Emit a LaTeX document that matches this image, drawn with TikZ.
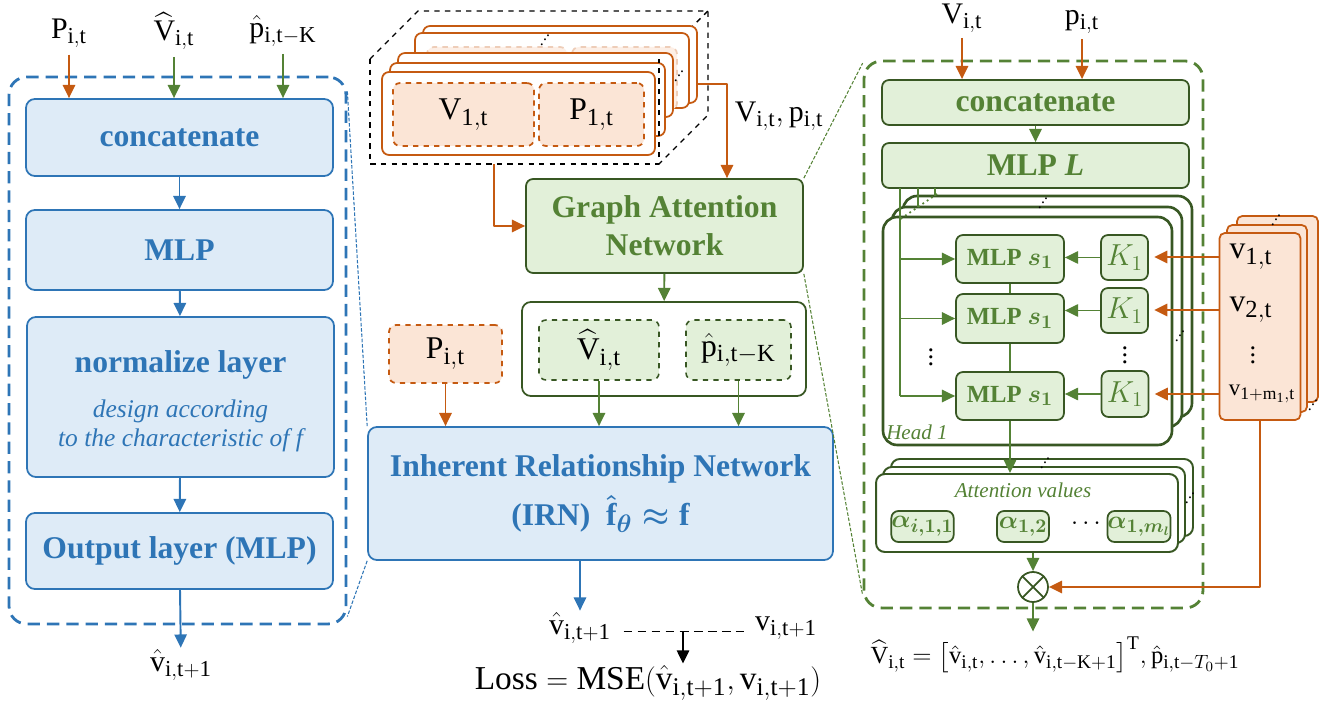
\documentclass[tikz,border=0pt]{standalone}
\usepackage{amsmath}
\usepackage{bm}
\usepackage{fontspec}
\setmainfont{Liberation Serif}
\usepackage{xcolor}
\usepackage{tikz}
\usetikzlibrary{calc, arrows.meta, positioning}

\DeclareMathSizes{13}{13}{10}{8}
\DeclareMathSizes{14}{14}{11}{8}
\DeclareMathSizes{17}{17}{13}{10}
\DeclareMathSizes{18}{18}{14}{10}
\DeclareMathSizes{19}{19}{14.5}{11}

\definecolor{bline}{RGB}{46,117,182}
\definecolor{bfill}{RGB}{222,235,247}
\definecolor{gline}{RGB}{84,130,53}
\definecolor{gdark}{RGB}{56,87,35}
\definecolor{gfill}{RGB}{226,240,217}
\definecolor{oline}{RGB}{197,90,17}
\definecolor{ofill}{RGB}{251,229,214}

\newcommand{\updots}{\raisebox{0pt}{.}\kern-0.5pt\raisebox{2.5pt}{.}\kern-0.5pt\raisebox{5pt}{.}}

\begin{document}
\begin{tikzpicture}[x=0.02cm, y=-0.02cm, >={Triangle[length=7.5pt, width=7pt]}, line join=round]
	\tikzstyle{bbox} = [draw=bline, fill=bfill, line width=1pt, rounded corners=5pt, text=bline, font=\fontsize{18}{21}\selectfont\bfseries, inner sep=0pt]
	\tikzstyle{gbox} = [draw=gdark, fill=gfill, line width=1pt, rounded corners=4pt, text=gline, font=\fontsize{18}{21.5}\selectfont\bfseries, inner sep=0pt, align=center]
	\tikzstyle{sbox} = [gbox, font=\fontsize{14}{16}\selectfont\bfseries]
	\tikzstyle{gdash} = [draw=gdark, fill=gfill, line width=0.9pt, dashed, rounded corners=4pt, inner sep=0pt]
	\tikzstyle{odash} = [draw=oline, fill=ofill, line width=1pt, dashed, rounded corners=4pt, inner sep=0pt]
	\tikzstyle{lbl} = [font=\fontsize{17}{20}\selectfont, inner sep=1pt]
	\tikzstyle{big} = [font=\fontsize{18}{21}\selectfont, inner sep=1pt]
	\tikzstyle{panel} = [line width=1.6pt, dash pattern=on 7pt off 4pt, rounded corners=10pt, inner sep=0pt]
	\tikzstyle{card} = [draw=oline, fill=white, line width=1pt, rounded corners=4pt]
	\tikzstyle{vcardst} = [draw=oline, fill=ofill, line width=1pt, rounded corners=3pt]
	\tikzstyle{hd} = [draw=gdark, fill=white, line width=1.5pt, rounded corners=8pt, inner sep=0pt]
	\tikzstyle{av} = [draw=gdark, fill=white, line width=1.1pt, rounded corners=5pt, inner sep=0pt]
	\tikzstyle{dots} = [font=\small, inner sep=0pt]
	\tikzstyle{link} = [line width=0.6pt, dash pattern=on 2pt off 1pt]

	\useasboundingbox (0, 0) rectangle (1335, 705);

	% left panel
	\node[panel, draw=bline, minimum width=6.74cm, minimum height=10.94cm] at (177.5, 350.5) (lpanel) {};
	\node[bbox, minimum width=6.14cm, minimum height=1.54cm] at (179.5, 137.5) (lcat) {concatenate};
	\node[bbox, minimum width=6.14cm, minimum height=1.6cm] at (179.5, 250) (lmlp) {MLP};
	\node[bbox, minimum width=6.14cm, minimum height=3.2cm] at (180.5, 397) (lnorm) {};
	\node[text=bline, font=\fontsize{18}{21}\selectfont\bfseries] at (180.5, 365) (lnormt) {normalize layer};
	\node[text=bline, font=\fontsize{14.5}{16.5}\selectfont\itshape, align=center] at (180.5, 426) (lnormd) {design according\\to the characteristic of f};
	\node[bbox, minimum width=6.14cm, minimum height=1.52cm] at (179.5, 551) (lout) {Output layer (MLP)};

	\node[lbl] at (69, 33) (lin1) {$\mathrm{P}_{\mathrm{i,t}}$};
	\node[lbl] at (174, 31) (lin2) {$\widehat{\mathrm{V}}_{\mathrm{i,t}}$};
	\node[lbl] at (283, 31) (lin3) {$\hat{\mathrm{p}}_{\mathrm{i,t-K}}$};
	\node[lbl] at (181, 665) (lres) {$\hat{\mathrm{v}}_{\mathrm{i,t+1}}$};

	\draw[->, oline, line width=1.1pt] ([yshift=-3pt]lin1.south) -- (lin1 |- lcat.north);
	\draw[->, gline, line width=1.1pt] ([yshift=-3pt]lin2.south) -- (lin2 |- lcat.north);
	\draw[->, gline, line width=1.1pt] ([yshift=-3pt]lin3.south) -- (lin3 |- lcat.north);
	\draw[->, bline, line width=1.1pt] (lcat) -- (lmlp);
	\draw[->, bline, line width=1.1pt] (lmlp) -- (lnorm);
	\draw[->, bline, line width=1.1pt] (lnorm) -- (lout);
	\draw[->, bline, line width=1.1pt] (lout) -- (lres);

	% stacked graph of nodes
	\draw[dashed, line width=0.8pt] (370, 59) -- (418, 11) -- (708, 11) -- (708, 115) -- (659, 164);
	\draw[dashed, line width=0.8pt] (659, 59) -- (708, 11);
	\draw[card] (423, 26) rectangle (697, 103);
	\draw[card] (415, 33) rectangle (689, 108);
	\draw[draw=oline!30, fill=ofill!60, dashed, line width=1pt, rounded corners=4pt] (427, 47) rectangle (567, 110);
	\draw[draw=oline!30, fill=ofill!60, dashed, line width=1pt, rounded corners=4pt] (572, 47) rectangle (677, 110);
	\draw[card] (398, 53) rectangle (673, 117);
	\draw[card] (390, 63) rectangle (665, 136);
	\node[card, minimum width=5.46cm, minimum height=1.66cm, inner sep=0pt] at (518.5, 113.5) (card1) {};
	\node[odash, minimum width=2.82cm, minimum height=1.26cm, big] at (463.5, 114.5) (vbox) {$\mathrm{V}_{\mathrm{1,t}}$};
	\node[odash, minimum width=2.1cm, minimum height=1.26cm, big] at (591.5, 114.5) (pbox) {$\mathrm{P}_{\mathrm{1,t}}$};
	\draw[dashed, line width=0.8pt] (370, 59) -- (370, 164) -- (659, 164) -- (659, 59);
	\node[dots] at (545, 40) (cdots1) {\updots};
	\node[dots] at (679, 76) (cdots2) {\updots};
	\coordinate (cubebot) at (494, 164);
	\coordinate (cardout) at (697, 84);

	% graph attention network
	\node[gbox, minimum width=5.54cm, minimum height=1.88cm] at (664.5, 226) (gat) {Graph Attention\\Network};
	\node[lbl] at (779, 116) (vp) {$\mathrm{V}_{\mathrm{i,t}},\mathrm{p}_{\mathrm{i,t}}$};
	\draw[->, oline, line width=1.1pt] (cubebot) |- (gat.west);
	\draw[->, oline, line width=1.1pt] (cardout) -| ([xshift=1.25cm]gat.north);

	\node[draw=gdark, line width=1pt, rounded corners=5pt, minimum width=5.68cm, minimum height=1.88cm] at (664, 349) (gout) {};
	\node[gdash, minimum width=2.4cm, minimum height=1.2cm, big] at (599, 350) (vhat) {$\widehat{\mathrm{V}}_{\mathrm{i,t}}$};
	\node[gdash, minimum width=2.1cm, minimum height=1.2cm, big] at (738.5, 350) (phat) {$\hat{\mathrm{p}}_{\mathrm{i,t-K}}$};
	\node[odash, minimum width=2.26cm, minimum height=1.16cm, big] at (445.5, 354) (pit) {$\mathrm{P}_{\mathrm{i,t}}$};

	\node[bbox, minimum width=9.3cm, minimum height=2.66cm, align=center, font=\fontsize{18}{28}\selectfont\bfseries\boldmath] at (600.5, 493.5) (irn) {Inherent Relationship Network\\(IRN)\ \ $\hat{\textbf{f}}_{\bm{\theta}}\approx\textbf{f}$};

	\draw[->, gline, line width=1.1pt] (gat) -- (gout);
	\draw[->, oline, line width=1.1pt] (pit) -- (pit |- irn.north);
	\draw[->, gline, line width=1.1pt] (vhat) -- (vhat |- irn.north);
	\draw[->, gline, line width=1.1pt] (phat) -- (phat |- irn.north);

	\node[lbl] at (580, 628) (vres) {$\hat{\mathrm{v}}_{\mathrm{i,t+1}}$};
	\node[lbl] at (786, 628) (vtrue) {$\mathrm{v}_{\mathrm{i,t+1}}$};
	\node[font=\fontsize{19}{22}\selectfont, inner sep=1pt] at (648, 683) (loss) {$\mathrm{Loss}=\mathrm{MSE}(\hat{\mathrm{v}}_{\mathrm{i,t+1}},\mathrm{v}_{\mathrm{i,t+1}})$};
	\draw[->, bline, line width=1.1pt] (vres.north |- irn.south) -- (vres.north);
	\draw[dashed, line width=0.9pt, dash pattern=on 5pt off 3pt, shorten <=6pt, shorten >=5pt] ([yshift=-2pt]vres.east) -- ([yshift=-2pt]vtrue.west);
	\coordinate (lossin) at ($(vres.east)!0.5!(vtrue.west)$);
	\draw[->, line width=1.1pt] ([yshift=-2pt]lossin) -- (lossin |- loss.north);

	% right panel: inside the graph attention network
	\node[panel, draw=gline, minimum width=6.78cm, minimum height=10.94cm] at (1033.5, 334.5) (rpanel) {};
	\node[lbl] at (962, 18) (rin1) {$\mathrm{V}_{\mathrm{i,t}}$};
	\node[lbl] at (1082, 22) (rin2) {$\mathrm{p}_{\mathrm{i,t}}$};
	\node[gbox, minimum width=6.14cm, minimum height=0.9cm] at (1035.5, 102.5) (rcat) {concatenate};
	\node[gbox, minimum width=6.14cm, minimum height=0.9cm] at (1035.5, 165.5) (rmlp) {MLP \textit{L}};
	\draw[->, oline, line width=1.1pt] ([yshift=-2pt]rin1.south) -- (rin1 |- rcat.north);
	\draw[->, oline, line width=1.1pt] ([yshift=-2pt]rin2.south) -- (rin2 |- rcat.north);
	\draw[->, gline, line width=1.1pt] (rcat) -- (rmlp);

	% heads
	\draw[hd] (903, 196) rectangle (1192, 417);
	\draw[hd] (892, 207) rectangle (1182, 427);
	\node[hd, minimum width=5.78cm, minimum height=4.56cm] at (1027.5, 331) (head) {};
	\node[text=gline, font=\fontsize{12}{14}\selectfont\itshape] at (917, 432) (headlbl) {Head 1};
	\node[dots] at (1043, 203) (hdots1) {\updots};
	\node[dots] at (1180, 336) (hdots2) {\updots};

	\node[sbox, minimum width=2.16cm, minimum height=0.96cm] at (1010, 259) (ms1) {MLP $\bm{s_1}$};
	\node[sbox, minimum width=2.16cm, minimum height=0.98cm] at (1010, 318.5) (ms2) {MLP $\bm{s_1}$};
	\node[sbox, minimum width=2.16cm, minimum height=0.96cm] at (1010, 396) (ms3) {MLP $\bm{s_1}$};
	\node[sbox, minimum width=0.94cm, minimum height=0.9cm, font=\fontsize{17}{18}\selectfont] at (1124.5, 257.5) (k1) {$K_1$};
	\node[sbox, minimum width=0.94cm, minimum height=0.9cm, font=\fontsize{17}{18}\selectfont] at (1124.5, 310.5) (k2) {$K_1$};
	\node[sbox, minimum width=0.94cm, minimum height=0.92cm, font=\fontsize{17}{18}\selectfont] at (1125, 394) (k3) {$K_1$};
	\node[font=\fontsize{15}{18}\selectfont] at (931, 352) (mdots) {$\vdots$};
	\node[font=\fontsize{15}{18}\selectfont] at (1125, 350) (kdots) {$\vdots$};

	\coordinate (trunk) at (900, 188);
	\coordinate (trunk2) at (918, 188);
	\coordinate (trunk3) at (935, 188);
	\draw[gline, line width=1pt] (trunk) -- (trunk |- ms3);
	\draw[gline, line width=1pt] (trunk2) -- ++(0, 19);
	\draw[gline, line width=1pt] (trunk3) -- ++(0, 8);
	\draw[gline, line width=1pt, dotted] (937, 194) -- (899, 220);
	\draw[->, gline, line width=1pt] (trunk |- ms1) -- (ms1.west);
	\draw[->, gline, line width=1pt] (trunk |- ms2) -- (ms2.west);
	\draw[->, gline, line width=1pt] (trunk |- ms3) -- (ms3.west);
	\draw[->, gline, line width=1pt] (k1) -- (k1 -| ms1.east);
	\draw[->, gline, line width=1pt] (k2) -- (k2 -| ms2.east);
	\draw[->, gline, line width=1pt] (k3) -- (k3 -| ms3.east);
	\draw[gline, line width=1pt] (ms1) -- (ms2) -- (ms3);

	% node features of the neighbours
	\draw[vcardst] (1237, 216) rectangle (1318, 402);
	\draw[vcardst] (1227, 225) rectangle (1307, 412);
	\node[vcardst, minimum width=1.62cm, minimum height=3.74cm, inner sep=0pt] at (1260, 326.5) (vcard) {};
	\node[dots] at (1276, 220) (vdots1) {\updots};
	\node[dots] at (1313, 405) (vdots2) {\updots};
	\node[big] at (1251, 257) (v1) {$\mathrm{v}_{\mathrm{1,t}}$};
	\node[big] at (1251, 310) (v2) {$\mathrm{v}_{\mathrm{2,t}}$};
	\node[font=\fontsize{15}{18}\selectfont] at (1253, 350) (vdots) {$\vdots$};
	\node[font=\fontsize{13}{15}\selectfont] at (1262, 394) (vm) {$\mathrm{v}_{\mathrm{1+m_1,t}}$};
	\draw[->, oline, line width=1.1pt] (v1 -| vcard.west) -- ([xshift=3pt]v1 -| k1.east);
	\draw[->, oline, line width=1.1pt] (v2 -| vcard.west) -- ([xshift=3pt]v2 -| k2.east);
	\draw[->, oline, line width=1.1pt] (vm -| vcard.west) -- ([xshift=3pt]vm -| k3.east);

	% attention values
	\draw[av] (891, 459) rectangle (1193, 536);
	\draw[av] (883, 467) rectangle (1185, 543);
	\node[av, minimum width=6.04cm, minimum height=1.56cm] at (1027, 513) (attn) {};
	\node[dots] at (1045, 463) (adots1) {\updots};
	\node[dots] at (1190, 498) (adots2) {\updots};
	\node[text=gline, font=\fontsize{12}{14}\selectfont\itshape] at (1023, 490) (attnlbl) {Attention values};
	\node[sbox, minimum width=1.22cm, minimum height=0.62cm, font=\fontsize{15}{17}\selectfont] at (922.5, 526.5) (a1) {$\bm{\alpha_{i,1,1}}$};
	\node[sbox, minimum width=1.04cm, minimum height=0.62cm, font=\fontsize{15}{17}\selectfont] at (1023, 526.5) (a2) {$\bm{\alpha_{1,2}}$};
	\node[font=\fontsize{15}{17}\selectfont] at (1088, 524) (aell) {$\cdots$};
	\node[sbox, minimum width=1.12cm, minimum height=0.62cm, font=\fontsize{15}{17}\selectfont] at (1139, 526.5) (a3) {$\bm{\alpha_{1,m_l}}$};
	\draw[->, gline, line width=1.1pt] (ms3) -- (ms3 |- attn.north);

	\node[draw=gdark, circle, line width=1pt, minimum size=0.6cm, inner sep=0pt] at (1033, 587) (otimes) {};
	\draw[gdark, line width=1pt] (otimes.north west) -- (otimes.south east) (otimes.north east) -- (otimes.south west);
	\draw[->, gline, line width=1.1pt] (otimes |- attn.south) -- (otimes.north);
	\draw[->, oline, line width=1.1pt] (vcard.south) |- (otimes.east);
	\node[font=\fontsize{14}{17}\selectfont, inner sep=1pt] at (1055, 655) (rres) {$\widehat{\mathrm{V}}_{\mathrm{i,t}}=\big[\hat{\mathrm{v}}_{\mathrm{i,t}},\dots,\hat{\mathrm{v}}_{\mathrm{i,t-K+1}}\big]^{\mathrm{T}},\hat{\mathrm{p}}_{\mathrm{i,t-}T_0\mathrm{+1}}$};
	\draw[->, gline, line width=1.1pt] (otimes.south) -- ([yshift=2pt]otimes |- rres.north);

	% zoom links
	\draw[bline, link] ([yshift=-9pt]lpanel.north east) -- (irn.north west);
	\draw[bline, link] (irn.south west) -- ([yshift=5pt]lpanel.south east);
	\draw[gline, link] (gat.north east) -- ([yshift=-2pt]rpanel.north west);
	\draw[gline, link] (gat.south east) -- ([yshift=8pt]rpanel.south west);
\end{tikzpicture}
\end{document}
